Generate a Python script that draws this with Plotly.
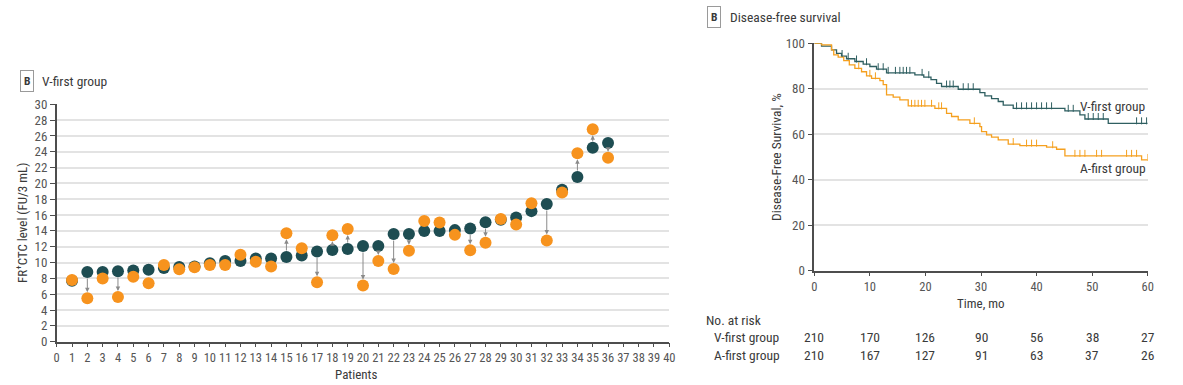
import numpy as np
import plotly.graph_objects as go

# ---------------- Data: panel 1 (V-first group) ----------------
patients = list(range(1, 37))
level_first = [7.7, 8.8, 8.8, 8.9, 9.0, 9.1, 9.3, 9.45, 9.5, 9.9, 10.2, 10.2,
               10.5, 10.5, 10.7, 10.9, 11.4, 11.6, 11.7, 12.1, 12.1, 13.6,
               13.6, 14.0, 14.0, 14.1, 14.3, 15.1, 15.4, 15.7, 16.5, 17.4,
               19.2, 20.8, 24.5, 25.1]
level_second = [7.8, 5.5, 8.0, 5.65, 8.2, 7.4, 9.7, 9.15, 9.4, 9.7, 9.7, 11.0,
                10.1, 9.5, 13.7, 11.8, 7.5, 13.45, 14.25, 7.1, 10.2, 9.2,
                11.5, 15.25, 15.05, 13.5, 11.55, 12.5, 15.5, 14.8, 17.5, 12.8,
                18.85, 23.8, 26.85, 23.25]
y_ticks_1 = list(range(0, 31, 2))
x_ticks_1 = list(range(0, 41))

# ---------------- Data: panel 2 (Disease-free survival) ----------------
v_time = [0, 1.3, 3.1, 4.0, 4.9, 5.8, 7.3, 8.8, 10.0, 11.2, 13.0, 18.1, 19.7,
          21.0, 22.0, 22.9, 25.9, 29.8, 30.7, 31.9, 33.1, 34.0, 35.8, 45.1,
          47.8, 48.7, 52.9, 60]
v_surv = [100, 98.8, 97.1, 95.6, 94.4, 93.2, 92.0, 90.8, 89.8, 88.6, 87.0,
          86.1, 85.1, 84.0, 82.4, 81.0, 79.8, 78.3, 76.9, 75.7, 74.4, 72.8,
          71.4, 70.3, 68.5, 66.7, 64.8, 64.8]
v_censor = [5.0, 6.1, 7.6, 9.4, 11.5, 12.4, 13.3, 14.6, 15.4, 16.0, 16.6, 17.2,
            19.4, 20.6, 23.8, 24.4, 25.0, 26.8, 27.7, 28.6, 36.4, 37.3, 38.2,
            39.1, 40.0, 40.9, 41.8, 42.7, 45.7, 46.6, 49.3, 50.2, 51.1, 52.0,
            58.0, 58.9, 59.8]

a_time = [0, 1.3, 3.1, 3.5, 4.3, 5.3, 6.3, 7.3, 8.5, 9.4, 10.3, 11.8, 12.4,
          13.0, 14.2, 15.4, 16.9, 21.7, 23.8, 24.7, 25.9, 28.0, 29.8, 30.1,
          31.0, 31.9, 33.1, 34.9, 37.0, 41.8, 43.6, 45.1, 58.9, 60]
a_surv = [100, 99.3, 97.1, 94.9, 93.9, 92.4, 90.5, 89.0, 87.5, 85.7, 84.6,
          83.6, 81.8, 77.3, 76.3, 75.1, 72.5, 71.4, 69.2, 67.8, 66.3, 64.8,
          63.4, 61.2, 59.7, 58.7, 57.5, 55.7, 55.0, 54.3, 53.4, 50.5, 48.7, 48.7]
a_censor = [8.0, 10.0, 11.0, 17.5, 18.1, 18.7, 19.3, 19.9, 21.1, 22.4, 22.9,
            28.8, 35.8, 38.2, 39.1, 40.0, 42.9, 46.9, 47.8, 48.7, 50.8, 51.7,
            56.2, 57.1, 58.0, 60.0]

risk_times = [0, 10, 20, 30, 40, 50, 60]
risk_v = [210, 170, 126, 90, 56, 38, 27]
risk_a = [210, 167, 127, 91, 63, 37, 26]

# ---------------- Style ----------------
W, H = 1183, 385
TEAL = "#1e4d52"
ORANGE = "#f7931e"
KM_TEAL = "#2f5f61"
KM_ORANGE = "#f5a01f"
GRID = "#e3e3e3"
AXIS = "#4d4d4d"
TXT = "#3a3a3a"
FONT = "Liberation Sans Narrow, Roboto Condensed, DejaVu Sans Condensed, Arial Narrow, sans-serif"

def px_x(p):
    return p / W

def px_y(p):
    return 1 - p / H

def step_value(times, vals, t):
    idx = np.searchsorted(np.asarray(times), t, side="right") - 1
    return np.asarray(vals)[np.clip(idx, 0, len(vals) - 1)]

fig = go.Figure()

# ---- panel 1 markers ----
fig.add_trace(go.Scatter(x=patients, y=level_first, mode="markers",
                         marker=dict(color=TEAL, size=12, line=dict(width=0)),
                         xaxis="x", yaxis="y", showlegend=False, hoverinfo="skip"))
fig.add_trace(go.Scatter(x=patients, y=level_second, mode="markers",
                         marker=dict(color=ORANGE, size=12, line=dict(width=0)),
                         xaxis="x", yaxis="y", showlegend=False, hoverinfo="skip"))

annotations = []
for p, a, b in zip(patients, level_first, level_second):
    if abs(b - a) > 1.3:
        annotations.append(dict(x=p, y=b, ax=p, ay=a, xref="x", yref="y",
                                axref="x", ayref="y", text="", showarrow=True,
                                arrowhead=2, arrowsize=0.9, arrowwidth=1,
                                arrowcolor="#8a8a8a", standoff=6, startstandoff=5))

# ---- panel 2 KM curves ----
v_off = 1.1  # lift censor ticks so they sit on top of the line
fig.add_trace(go.Scatter(x=v_time, y=v_surv, mode="lines", line=dict(color=KM_TEAL, width=1.3, shape="hv"),
                         xaxis="x2", yaxis="y2", showlegend=False, hoverinfo="skip"))
fig.add_trace(go.Scatter(x=a_time, y=a_surv, mode="lines", line=dict(color=KM_ORANGE, width=1.3, shape="hv"),
                         xaxis="x2", yaxis="y2", showlegend=False, hoverinfo="skip"))
fig.add_trace(go.Scatter(x=v_censor, y=step_value(v_time, v_surv, v_censor) + v_off, mode="markers",
                         marker=dict(symbol="line-ns", size=5, line=dict(color=KM_TEAL, width=1)),
                         xaxis="x2", yaxis="y2", showlegend=False, hoverinfo="skip"))
fig.add_trace(go.Scatter(x=a_censor, y=step_value(a_time, a_surv, a_censor) + v_off, mode="markers",
                         marker=dict(symbol="line-ns", size=5, line=dict(color=KM_ORANGE, width=1)),
                         xaxis="x2", yaxis="y2", showlegend=False, hoverinfo="skip"))

axis_common = dict(showline=True, linecolor=AXIS, linewidth=1.5, ticks="outside",
                   tickcolor=AXIS, tickwidth=1.2, zeroline=False, automargin=False)
tf_y = dict(family=FONT, size=13, color="#555555")
tf_x = dict(family=FONT, size=12.5, color="#555555")

fig.update_layout(
    width=W, height=H, margin=dict(l=0, r=0, t=0, b=0, autoexpand=False),
    paper_bgcolor="white", plot_bgcolor="white",
    font=dict(family=FONT, color=TXT),
    xaxis=dict(domain=[px_x(56.7), px_x(669.3)], range=[0, 40], tickvals=x_ticks_1,
               showgrid=False, anchor="y", ticklen=4, tickfont=tf_x, **axis_common),
    yaxis=dict(domain=[px_y(341.7), px_y(104.3)], range=[0, 30], tickvals=y_ticks_1,
               showgrid=True, gridcolor=GRID, gridwidth=1.5, anchor="x", ticklen=5,
               tickfont=tf_y, **axis_common),
    xaxis2=dict(domain=[px_x(814.3), px_x(1147.7)], range=[0, 60], tickvals=risk_times,
                showgrid=False, anchor="y2", ticklen=4, tickfont=tf_x, **axis_common),
    yaxis2=dict(domain=[px_y(270.7), px_y(43.3)], range=[0, 100], tickvals=[0, 20, 40, 60, 80, 100],
                showgrid=True, gridcolor=GRID, gridwidth=1.5, anchor="x2", ticklen=5,
                tickfont=tf_y, **axis_common),
)

def txt(x, y, s, size=13.5, xanchor="left", color=TXT, **kw):
    d = dict(x=px_x(x), y=px_y(y), xref="paper", yref="paper", text=s, showarrow=False,
             xanchor=xanchor, yanchor="middle", font=dict(family=FONT, size=size, color=color))
    d.update(kw)
    annotations.append(d)

# panel labels
txt(26.5, 81, "<b>B</b>", size=11.5, xanchor="center", bordercolor="#9a9a9a", borderwidth=1,
    borderpad=3, bgcolor="white")
txt(40, 81, "V-first group")
txt(714, 17, "<b>B</b>", size=11.5, xanchor="center", bordercolor="#9a9a9a", borderwidth=1,
    borderpad=3, bgcolor="white")
txt(728, 17, "Disease-free survival")

# axis titles
txt(22, 223, "FR<sup>+</sup>CTC level (FU/3 mL)", size=13, xanchor="center", textangle=-90)
txt(356, 374, "Patients", size=13, xanchor="center")
txt(776, 157, "Disease-Free Survival, %", xanchor="center", textangle=-90)
txt(981, 303, "Time, mo", size=13, xanchor="center")

# curve labels
txt(1148, 106, "V-first group", xanchor="right")
txt(1148, 168, "A-first group", xanchor="right")

# number at risk
txt(704, 320, "No. at risk")
txt(712, 337, "V-first group")
txt(712, 355, "A-first group")
for t, nv, na in zip(risk_times, risk_v, risk_a):
    annotations.append(dict(x=t, y=px_y(337), xref="x2", yref="paper", text=str(nv), showarrow=False,
                            xanchor="center", yanchor="middle", font=dict(family=FONT, size=13.5, color=TXT)))
    annotations.append(dict(x=t, y=px_y(355), xref="x2", yref="paper", text=str(na), showarrow=False,
                            xanchor="center", yanchor="middle", font=dict(family=FONT, size=13.5, color=TXT)))

fig.update_layout(annotations=annotations)
fig.write_html("out.html", config={"displayModeBar": False},
               post_script="document.body.style.margin='0';document.body.style.overflow='hidden';")
